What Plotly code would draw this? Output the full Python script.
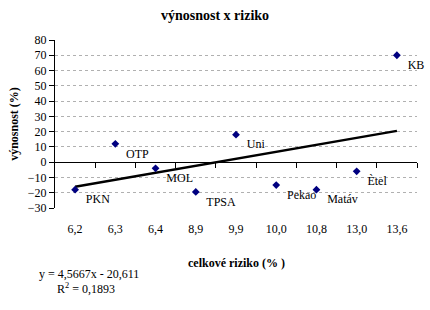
import plotly.graph_objects as go

categories = ["6,2", "6,3", "6,4", "8,9", "9,9", "10,0", "10,8", "13,0", "13,6"]
names = ["PKN", "OTP", "MOL", "TPSA", "Uni", "Pekao", "Matáv", "Ètel", "KB"]
returns = [-18, 12, -4, -19.5, 18, -15, -18, -6, 70]
slope = 4.5667
intercept = -20.611
r2 = 0.1893
y_ticks = list(range(-30, 81, 10))

FONT = "Liberation Serif, serif"
idx = list(range(len(categories)))
trend_x = [idx[0], idx[-1]]
trend_y = [slope * (i + 1) + intercept for i in trend_x]

fig = go.Figure()
fig.add_trace(go.Scatter(
    x=trend_x, y=trend_y, mode="lines",
    line=dict(color="black", width=2.5), showlegend=False, hoverinfo="skip"))
fig.add_trace(go.Scatter(
    x=idx, y=returns, mode="markers+text", text=["  " + n for n in names],
    textposition="bottom right", cliponaxis=False,
    textfont=dict(family=FONT, size=12, color="black"),
    marker=dict(symbol="diamond", size=6, color="#000080"),
    showlegend=False))
# axis line at y=0 with category boundary ticks
fig.add_trace(go.Scatter(x=[-0.5], y=[0], xaxis="x2", mode="markers",
                         marker=dict(opacity=0), showlegend=False, hoverinfo="skip"))

fig.update_layout(
    width=430, height=310,
    margin=dict(l=55, r=13, t=40, b=102),
    paper_bgcolor="white", plot_bgcolor="white",
    font=dict(family=FONT, size=12, color="black"),
    title=dict(text="<b>výnosnost x riziko</b>", x=0.5, xanchor="center",
               y=0.952, yanchor="middle", font=dict(family=FONT, size=14)),
    xaxis=dict(range=[-0.5, len(categories) - 0.5], tickvals=idx,
               ticktext=categories, showgrid=False, showline=False,
               zeroline=False, ticks="", ticklabelstandoff=12,
               tickfont=dict(family=FONT, size=12)),
    xaxis2=dict(range=[-0.5, len(categories) - 0.5], overlaying="x",
                anchor="free", position=(0 - (-30)) / 110,
                tickvals=[i + 0.5 for i in idx], showticklabels=False,
                ticks="outside", ticklen=5, tickcolor="black", tickwidth=1,
                showline=True, linecolor="black", linewidth=1,
                showgrid=False, zeroline=False),
    yaxis=dict(range=[-30, 80], tickvals=y_ticks, showgrid=True,
               gridcolor="#b0b0b0", griddash="dot", gridwidth=1,
               zeroline=False, showline=True, linecolor="black",
               ticks="outside", ticklen=5, tickcolor="black",
               tickfont=dict(family=FONT, size=12),
               title=dict(text="<b>výnosnost (%)</b>", standoff=6,
                          font=dict(family=FONT, size=12))),
    annotations=[
        dict(text="<b>celkové riziko (% )</b>", xref="paper", yref="paper",
             x=0.5, y=-0.33, xanchor="center", yanchor="middle",
             showarrow=False, font=dict(family=FONT, size=12)),
        dict(text=f"y = {str(slope).replace('.', ',')}x - {str(-intercept).replace('.', ',')}",
             xref="paper", yref="paper", x=-0.05, y=-0.39,
             xanchor="left", yanchor="middle", showarrow=False,
             font=dict(family=FONT, size=12)),
        dict(text=f"R<sup>2</sup> = {str(r2).replace('.', ',')}",
             xref="paper", yref="paper", x=0.0, y=-0.48,
             xanchor="left", yanchor="middle", showarrow=False,
             font=dict(family=FONT, size=12)),
    ],
)

fig.write_html("out.html")
